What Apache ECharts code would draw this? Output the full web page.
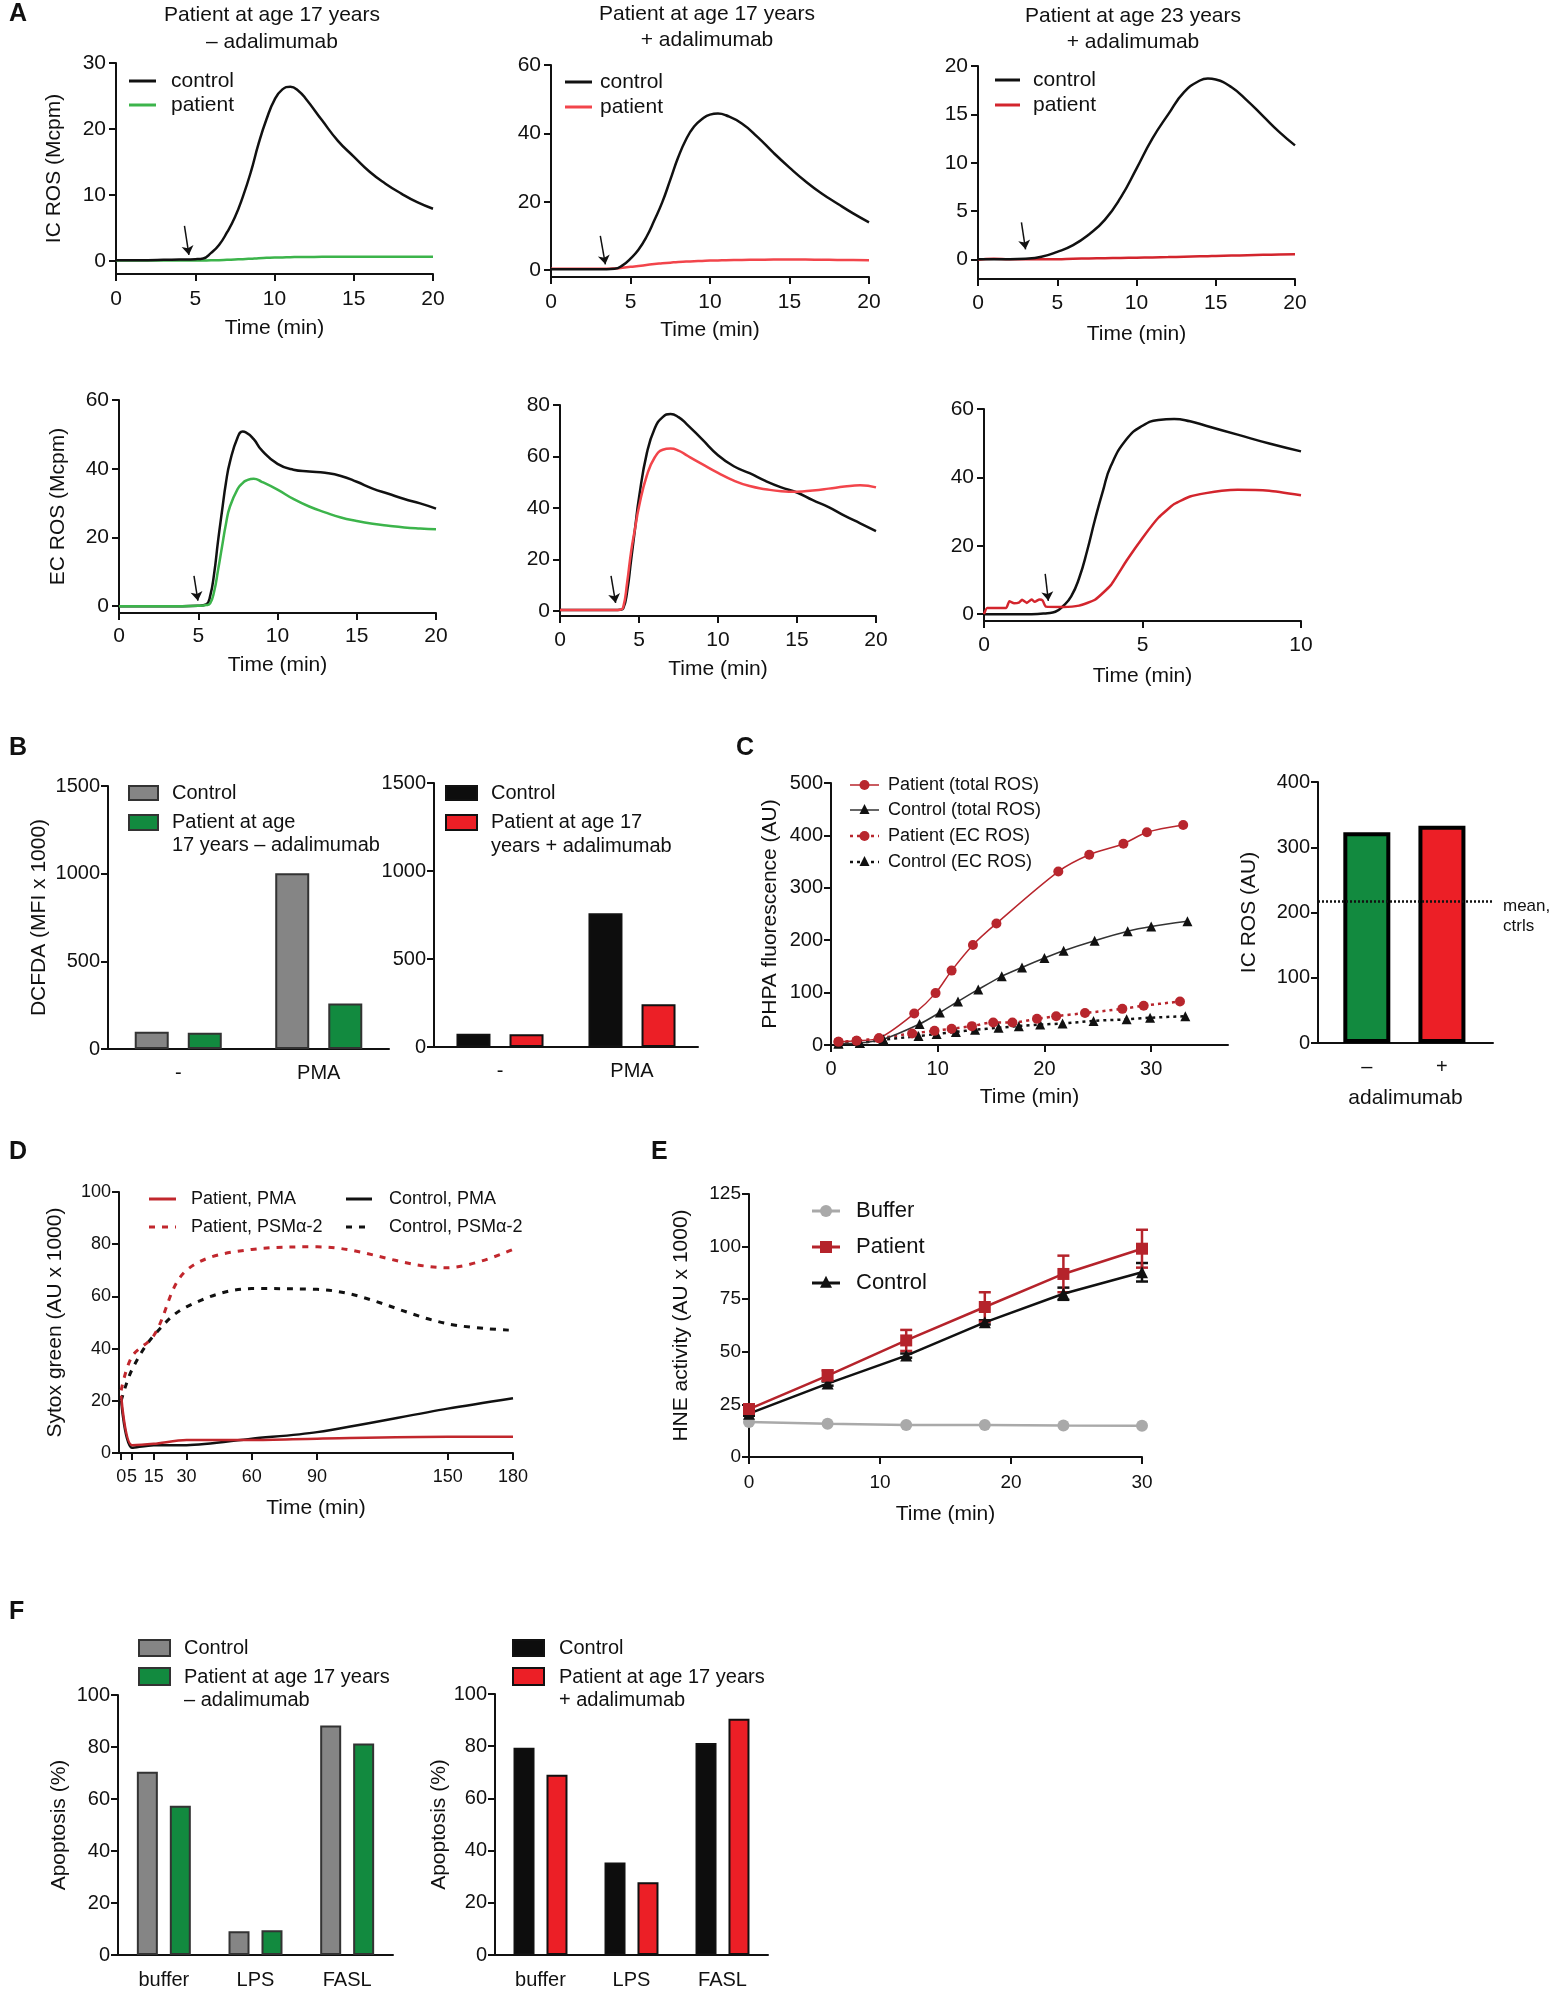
<!DOCTYPE html>
<html>
<head>
<meta charset="utf-8">
<title>ROS, NET and apoptosis panels</title>
<script src="https://cdn.jsdelivr.net/npm/echarts@6/dist/echarts.min.js"></script>
<style>
  html, body { margin: 0; padding: 0; background: #fff; }
  #chart { width: 1549px; height: 1990px; }
</style>
</head>
<body>
<div id="chart"></div>
<script>
// ---- data ----
// A, intracellular ROS
var a1Time = [0, 1, 2, 3, 4, 5, 5.5, 6, 6.5, 7, 7.5, 8, 8.5, 9, 9.5, 10, 10.5, 11, 11.5, 12, 13, 14, 15, 16, 17, 18, 19, 20];
var a1Control = [0.1, 0.1, 0.1, 0.15, 0.2, 0.25, 0.35, 1.2, 2.4, 4.3, 6.6, 9.7, 13.4, 17.8, 21.5, 24.4, 26, 26.4, 25.8, 24.5, 21.3, 18.2, 15.8, 13.5, 11.7, 10.2, 8.9, 7.9];
var a1Patient = [0.05, 0.05, 0.05, 0.05, 0.05, 0.05, 0.06, 0.07, 0.1, 0.15, 0.2, 0.25, 0.32, 0.4, 0.45, 0.5, 0.52, 0.55, 0.57, 0.58, 0.6, 0.62, 0.62, 0.62, 0.62, 0.62, 0.6, 0.6];

var a2Time = [0, 1, 2, 3, 3.5, 4, 4.5, 5, 5.5, 6, 6.5, 7, 7.5, 8, 8.5, 9, 9.5, 10, 10.5, 11, 12, 13, 14, 15, 16, 17, 18, 19, 20];
var a2Control = [0.3, 0.3, 0.3, 0.3, 0.3, 0.4, 1.4, 3.4, 6, 9.7, 14.6, 19.9, 26.4, 33, 38.3, 42, 44.2, 45.5, 45.8, 45.3, 42.9, 38.9, 34.3, 30, 26, 22.5, 19.5, 16.6, 14];
var a2Patient = [0.4, 0.4, 0.4, 0.4, 0.4, 0.5, 0.7, 1.0, 1.2, 1.5, 1.8, 2.0, 2.2, 2.4, 2.5, 2.6, 2.7, 2.8, 2.85, 2.9, 3.0, 3.05, 3.1, 3.1, 3.1, 3.05, 3.0, 2.95, 2.9];

var a3Time = [0, 1, 2, 3, 4, 5, 6, 7, 8, 9, 10, 11, 12, 13, 14, 14.5, 15, 16, 17, 18, 19, 20];
var a3Control = [0.05, 0.05, 0.05, 0.1, 0.3, 0.8, 1.5, 2.6, 4.1, 6.4, 9.4, 12.5, 15, 17.3, 18.5, 18.7, 18.6, 17.8, 16.4, 14.8, 13.2, 11.8];
var a3Patient = [0, 0.1, 0.05, 0.05, 0.05, 0.05, 0.1, 0.12, 0.15, 0.18, 0.2, 0.23, 0.26, 0.3, 0.34, 0.36, 0.38, 0.42, 0.46, 0.5, 0.53, 0.56];

// A, extracellular ROS
var ec1Time = [0, 1, 2, 3, 4, 5, 5.5, 5.75, 6, 6.25, 6.5, 6.75, 7, 7.5, 7.8, 8, 8.5, 9, 10, 11, 12, 13, 14, 15, 16, 17, 18, 19, 20];
var ec1Control = [0, 0, 0, 0, 0, 0.1, 0.5, 2.9, 9.4, 19, 27.7, 36, 42, 49.3, 50.8, 50.6, 48.6, 45.4, 41.4, 39.7, 39.2, 38.8, 37.9, 36.2, 34.2, 32.7, 31.2, 29.9, 28.4];
var ec1Patient = [0, 0, 0, 0, 0, 0.1, 0.3, 0.8, 4.2, 10.5, 17.3, 24, 29, 34.2, 35.8, 36.5, 37.1, 36.2, 33.9, 31.2, 29, 27.3, 25.8, 24.8, 24, 23.4, 22.9, 22.6, 22.4];

var ec2Time = [0, 1, 2, 3, 3.5, 3.8, 4, 4.25, 4.5, 4.75, 5, 5.5, 6, 6.5, 7, 7.5, 8, 9, 10, 11, 12, 13, 14, 15, 16, 17, 18, 19, 20];
var ec2Control = [0.3, 0.3, 0.3, 0.3, 0.3, 0.4, 0.9, 7.5, 19.7, 32, 44, 61.4, 71, 75.3, 76.5, 75.3, 72.7, 66.6, 60.5, 56.2, 53.5, 50.5, 48, 46, 43, 40.3, 37, 34, 31];
var ec2Patient = [0.3, 0.3, 0.3, 0.3, 0.3, 0.4, 1.4, 11, 23, 32, 40.5, 52.7, 59.7, 62.6, 63.1, 62.3, 60.5, 57, 53.6, 50.6, 48.5, 47.3, 46.5, 46.3, 46.8, 47.5, 48.3, 48.8, 48];

var ec3Time = [0, 0.5, 1, 1.5, 2, 2.25, 2.5, 2.75, 3, 3.25, 3.5, 3.75, 4, 4.5, 5, 5.5, 6, 6.5, 7, 8, 9, 10];
var ec3Control = [0, 0, 0, 0, 0.3, 0.7, 2.4, 5.2, 10.5, 18.4, 27.6, 36, 43.3, 51.2, 55.1, 56.8, 57.1, 56.4, 55.1, 52.5, 49.9, 47.6];
var ec3PatientTime = [0, 0.1, 0.7, 0.8, 0.95, 1.1, 1.2, 1.35, 1.5, 1.6, 1.75, 1.85, 1.95, 2.5, 3, 3.5, 4, 4.5, 5, 5.5, 6, 6.5, 7, 7.5, 8, 9, 10];
var ec3Patient = [0, 1.8, 1.8, 3.8, 3.2, 3.4, 4.2, 3.3, 4.3, 3.6, 4.3, 4.0, 2.2, 2.1, 2.5, 4.2, 8.5, 15.7, 22.3, 28.2, 32.2, 34.4, 35.4, 36.1, 36.4, 36.1, 34.8];

// B, DCFDA
var bCats = ['-', 'PMA'];
var b1Control = [99, 1002];
var b1Patient = [93, 260];
var b2Control = [75, 760];
var b2Patient = [72, 243];

// C, PHPA
var cPatTotTime = [0.7, 2.4, 4.5, 7.8, 9.8, 11.3, 13.3, 15.5, 21.3, 24.2, 27.4, 29.6, 33];
var cPatTot = [6, 8, 13, 60, 99, 142, 191, 232, 331, 363, 384, 406, 420];
var cCtlTotTime = [0.7, 2.7, 4.9, 8.3, 10.2, 11.9, 13.8, 16.0, 17.9, 20.0, 21.8, 24.7, 27.8, 30.0, 33.4];
var cCtlTot = [3, 4, 11, 40, 62, 83, 106, 131, 148, 166, 180, 199, 217, 226, 236];
var cPatEcTime = [0.7, 2.4, 4.5, 7.6, 9.7, 11.3, 13.2, 15.2, 17.0, 19.3, 21.1, 23.8, 27.3, 29.3, 32.7];
var cPatEc = [6, 8, 13, 22, 27, 31, 36, 43, 43, 50, 55, 61, 69, 75, 83];
var cCtlEcTime = [0.7, 2.7, 4.9, 8.2, 9.9, 11.7, 13.5, 15.7, 17.6, 19.6, 21.7, 24.6, 27.7, 29.9, 33.2];
var cCtlEc = [3, 4, 10, 17, 21, 25, 29, 33, 36, 39, 41, 46, 49, 52, 55];
var c2Cats = ['–', '+'];
var c2Values = [323, 333];
var c2MeanCtrls = 218;

// D, Sytox green
var dTime = [0, 5, 15, 30, 60, 90, 150, 180];
var dPatientPMA = [22, 3, 3.5, 5, 5, 5.5, 6.2, 6.2];
var dControlPMA = [20, 2, 3, 3, 5.5, 8, 17, 21];
var dPatientPSM = [24, 37, 45, 70, 78, 79, 71, 78];
var dControlPSM = [20, 32, 45, 56, 63, 62.7, 49.5, 47];

// E, HNE activity
var eTime = [0, 6, 12, 18, 24, 30];
var eBuffer = [16.6, 15.8, 15.2, 15.2, 15.0, 14.9];
var ePatient = [22.8, 38.7, 55.4, 71.3, 87.0, 99.0];
var ePatientErr = [1, 2.5, 5, 7, 8.7, 9];
var eControl = [20.6, 34.9, 48.2, 64.0, 77.6, 87.8];
var eControlErr = [1, 1, 1, 1, 2.9, 4.4];

// F, apoptosis
var fCats = ['buffer', 'LPS', 'FASL'];
var f1Control = [70.5, 9.1, 88.3];
var f1Patient = [57.4, 9.5, 81.3];
var f2Control = [79.4, 35.4, 81.2];
var f2Patient = [69.1, 27.9, 90.5];

// ---- styling ----
var FONT = '"Liberation Sans", Arial, Helvetica, sans-serif';
var INK = '#111';
var GREEN_LINE = '#3cb44b';
var RED_LIGHT = '#f2454b';
var RED_A3 = '#d3252d';
var DARK_RED = '#b8262d';
var BAR_GRAY = '#858585';
var BAR_GREEN = '#128a3f';
var BAR_RED = '#ec1f26';
var BAR_BLACK = '#0d0d0d';
var BUFFER_GRAY = '#a9a9a9';

function zip(xs, ys) {
  return xs.map(function (x, i) { return [x, ys[i]]; });
}

function plain(v) { return String(v); }

function vAxis(o) {
  return {
    type: 'value', gridIndex: o.grid, min: o.min, max: o.max,
    name: o.name || '', nameLocation: 'middle', nameGap: o.nameGap || 40,
    nameTextStyle: { fontFamily: FONT, fontSize: o.nameSize || 21, color: INK },
    axisLine: { show: true, onZero: false, lineStyle: { color: INK, width: 2 } },
    axisTick: { show: o.tick !== false, customValues: o.ticks, length: 7, lineStyle: { color: INK, width: 2 } },
    axisLabel: { show: true, customValues: o.ticks, fontFamily: FONT, fontSize: o.size || 21, color: INK,
      margin: o.margin || 10, formatter: o.formatter || plain },
    splitLine: { show: false }
  };
}

function cAxis(o) {
  return {
    type: 'category', gridIndex: o.grid, data: o.data,
    axisLine: { show: true, onZero: false, lineStyle: { color: INK, width: 2 } },
    axisTick: { show: false },
    axisLabel: { fontFamily: FONT, fontSize: o.size || 20, color: INK, margin: o.margin || 14 },
    splitLine: { show: false }
  };
}

function curve(idx, xs, ys, color, extra) {
  var s = {
    type: 'line', xAxisIndex: idx, yAxisIndex: idx, data: zip(xs, ys),
    symbol: 'none', smooth: 0.5,
    lineStyle: { color: color, width: 2.5 }, itemStyle: { color: color },
    silent: true, animation: false
  };
  for (var k in extra) s[k] = extra[k];
  return s;
}

function arrow(idx, from, to) {
  return {
    type: 'line', xAxisIndex: idx, yAxisIndex: idx, data: [],
    silent: true, animation: false,
    markLine: {
      silent: true, animation: false, symbol: ['none', 'arrow'], symbolSize: 9,
      label: { show: false },
      lineStyle: { color: INK, width: 1.5, type: 'solid' },
      data: [[{ coord: from }, { coord: to }]]
    }
  };
}

function bar(idx, data, color, border, width, gap) {
  return {
    type: 'bar', xAxisIndex: idx, yAxisIndex: idx, data: data,
    barWidth: width, barGap: gap,
    itemStyle: { color: color, borderColor: border, borderWidth: 2 },
    silent: true, animation: false
  };
}

// legend helpers (graphic)
function txt(x, y, s, size, opt) {
  opt = opt || {};
  return {
    type: 'text', x: x, y: y, silent: true,
    style: {
      text: s, fill: INK, align: opt.align || 'left', verticalAlign: 'middle',
      font: (opt.bold ? 'bold ' : '') + size + 'px ' + FONT
    }
  };
}
function seg(x1, x2, y, color, width, dash) {
  return {
    type: 'line', silent: true,
    shape: { x1: x1, y1: y, x2: x2, y2: y },
    style: { stroke: color, lineWidth: width || 3, lineDash: dash || null }
  };
}
function box(x, y, w, h, fill, stroke) {
  return {
    type: 'rect', silent: true, shape: { x: x, y: y, width: w, height: h },
    style: { fill: fill, stroke: stroke, lineWidth: 2 }
  };
}
function dot(cx, cy, r, fill) {
  return { type: 'circle', silent: true, shape: { cx: cx, cy: cy, r: r }, style: { fill: fill } };
}
function square(cx, cy, s, fill) {
  return { type: 'rect', silent: true, shape: { x: cx - s / 2, y: cy - s / 2, width: s, height: s }, style: { fill: fill } };
}
function tri(cx, cy, s, fill) {
  return {
    type: 'polygon', silent: true,
    shape: { points: [[cx, cy - s * 0.6], [cx - s / 2, cy + s * 0.4], [cx + s / 2, cy + s * 0.4]] },
    style: { fill: fill }
  };
}

// ---- layout: one grid per sub plot ----
var grids = [
  { left: 116, top: 63, width: 317, height: 211 },   // 0 A IC 1
  { left: 551, top: 65, width: 318, height: 212 },   // 1 A IC 2
  { left: 978, top: 66, width: 317, height: 213 },   // 2 A IC 3
  { left: 119, top: 400, width: 317, height: 213 },  // 3 A EC 1
  { left: 560, top: 405, width: 316, height: 211 },  // 4 A EC 2
  { left: 984, top: 409, width: 317, height: 212 },  // 5 A EC 3
  { left: 108, top: 786, width: 281, height: 263 },  // 6 B1
  { left: 434, top: 783, width: 264, height: 264 },  // 7 B2
  { left: 831, top: 783, width: 397, height: 262 },  // 8 C1
  { left: 1318, top: 782, width: 175, height: 261 }, // 9 C2
  { left: 119, top: 1192, width: 394, height: 261 }, // 10 D
  { left: 749, top: 1194, width: 393, height: 263 }, // 11 E
  { left: 118, top: 1695, width: 275, height: 262 }, // 12 F1
  { left: 495, top: 1694, width: 273, height: 263 }  // 13 F2
];

var tMin = [0, 5, 10, 15, 20];
var xAxes = [
  vAxis({ grid: 0, min: 0, max: 20, ticks: tMin, name: 'Time (min)', nameGap: 44, margin: 15 }),
  vAxis({ grid: 1, min: 0, max: 20, ticks: tMin, name: 'Time (min)', nameGap: 43, margin: 15 }),
  vAxis({ grid: 2, min: 0, max: 20, ticks: tMin, name: 'Time (min)', nameGap: 45, margin: 14 }),
  vAxis({ grid: 3, min: 0, max: 20, ticks: tMin, name: 'Time (min)', nameGap: 42, margin: 13 }),
  vAxis({ grid: 4, min: 0, max: 20, ticks: tMin, name: 'Time (min)', nameGap: 43, margin: 14 }),
  vAxis({ grid: 5, min: 0, max: 10, ticks: [0, 5, 10], name: 'Time (min)', nameGap: 45, margin: 14 }),
  cAxis({ grid: 6, data: bCats }),
  cAxis({ grid: 7, data: bCats }),
  vAxis({ grid: 8, min: 0, max: 37.2, ticks: [0, 10, 20, 30], name: 'Time (min)', nameGap: 42, margin: 14, size: 20 }),
  vAxis({ grid: 9, min: -0.65, max: 1.68, ticks: [0, 1], tick: false, name: 'adalimumab', nameGap: 45, margin: 14, size: 20,
    formatter: function (v) { return c2Cats[Math.round(v)]; } }),
  vAxis({ grid: 10, min: -1, max: 180, ticks: dTime, name: 'Time (min)', nameGap: 45, margin: 15, size: 18 }),
  vAxis({ grid: 11, min: 0, max: 30, ticks: [0, 10, 20, 30], name: 'Time (min)', nameGap: 47, margin: 16, size: 19 }),
  cAxis({ grid: 12, data: fCats, margin: 15 }),
  cAxis({ grid: 13, data: fCats, margin: 15 })
];

var yAxes = [
  vAxis({ grid: 0, min: -2, max: 30, ticks: [0, 10, 20, 30], name: 'IC ROS (Mcpm)', nameGap: 51 }),
  vAxis({ grid: 1, min: -2, max: 60, ticks: [0, 20, 40, 60] }),
  vAxis({ grid: 2, min: -2, max: 20, ticks: [0, 5, 10, 15, 20] }),
  vAxis({ grid: 3, min: -2, max: 60, ticks: [0, 20, 40, 60], name: 'EC ROS (Mcpm)', nameGap: 50 }),
  vAxis({ grid: 4, min: -2, max: 80, ticks: [0, 20, 40, 60, 80] }),
  vAxis({ grid: 5, min: -2, max: 60, ticks: [0, 20, 40, 60] }),
  vAxis({ grid: 6, min: 0, max: 1500, ticks: [0, 500, 1000, 1500], name: 'DCFDA (MFI x 1000)', nameGap: 58, size: 20, nameSize: 21, margin: 8 }),
  vAxis({ grid: 7, min: 0, max: 1500, ticks: [0, 500, 1000, 1500], size: 20, margin: 8 }),
  vAxis({ grid: 8, min: 0, max: 500, ticks: [0, 100, 200, 300, 400, 500], name: 'PHPA fluorescence (AU)', nameGap: 50, size: 20, margin: 8 }),
  vAxis({ grid: 9, min: 0, max: 400, ticks: [0, 100, 200, 300, 400], name: 'IC ROS (AU)', nameGap: 58, size: 20, margin: 8 }),
  vAxis({ grid: 10, min: 0, max: 100, ticks: [0, 20, 40, 60, 80, 100], name: 'Sytox green (AU x 1000)', nameGap: 53, size: 18, margin: 8 }),
  vAxis({ grid: 11, min: 0, max: 125, ticks: [0, 25, 50, 75, 100, 125], name: 'HNE activity (AU x 1000)', nameGap: 57, size: 19, margin: 8 }),
  vAxis({ grid: 12, min: 0, max: 100, ticks: [0, 20, 40, 60, 80, 100], name: 'Apoptosis (%)', nameGap: 48, size: 20, margin: 8 }),
  vAxis({ grid: 13, min: 0, max: 100, ticks: [0, 20, 40, 60, 80, 100], name: 'Apoptosis (%)', nameGap: 45, size: 20, margin: 8 })
];

// error bars for panel E
function errorBars(idx, xs, ys, errs, color) {
  return {
    type: 'custom', xAxisIndex: idx, yAxisIndex: idx, silent: true, animation: false,
    data: xs.map(function (x, i) { return [x, ys[i], errs[i]]; }),
    renderItem: function (params, api) {
      var x = api.value(0), y = api.value(1), e = api.value(2);
      var top = api.coord([x, y + e]);
      var bot = api.coord([x, y - e]);
      var st = { stroke: color, lineWidth: 2.5 };
      return {
        type: 'group', children: [
          { type: 'line', shape: { x1: top[0], y1: top[1], x2: bot[0], y2: bot[1] }, style: st },
          { type: 'line', shape: { x1: top[0] - 6, y1: top[1], x2: top[0] + 6, y2: top[1] }, style: st },
          { type: 'line', shape: { x1: bot[0] - 6, y1: bot[1], x2: bot[0] + 6, y2: bot[1] }, style: st }
        ]
      };
    }
  };
}

var series = [
  // A, IC ROS
  curve(0, a1Time, a1Patient, GREEN_LINE),
  curve(0, a1Time, a1Control, INK),
  arrow(0, [4.32, 5.3], [4.6, 0.9]),
  curve(1, a2Time, a2Patient, RED_LIGHT),
  curve(1, a2Time, a2Control, INK),
  arrow(1, [3.1, 10], [3.42, 1.7]),
  curve(2, a3Time, a3Patient, RED_A3),
  curve(2, a3Time, a3Control, INK),
  arrow(2, [2.74, 3.86], [3.0, 1.07]),
  // A, EC ROS
  curve(3, ec1Time, ec1Control, INK),
  curve(3, ec1Time, ec1Patient, GREEN_LINE),
  arrow(3, [4.73, 8.8], [4.98, 1.57]),
  curve(4, ec2Time, ec2Control, INK),
  curve(4, ec2Time, ec2Patient, RED_LIGHT),
  arrow(4, [3.23, 13.6], [3.52, 3.1]),
  curve(5, ec3Time, ec3Control, INK),
  curve(5, ec3PatientTime, ec3Patient, RED_A3, { smooth: 0.15 }),
  arrow(5, [1.93, 11.8], [2.03, 3.9]),
  // B
  bar(6, b1Control, BAR_GRAY, '#333', 34, '56%'),
  bar(6, b1Patient, BAR_GREEN, '#333', 34, '56%'),
  bar(7, b2Control, BAR_BLACK, '#111', 34, '56%'),
  bar(7, b2Patient, BAR_RED, '#111', 34, '56%'),
  // C1
  curve(8, cCtlEcTime, cCtlEc, INK, { symbol: 'triangle', symbolSize: 10, showSymbol: true, smooth: 0.3,
    lineStyle: { color: INK, width: 2.5, type: [3, 4] } }),
  curve(8, cPatEcTime, cPatEc, DARK_RED, { symbol: 'circle', symbolSize: 10, showSymbol: true, smooth: 0.3,
    lineStyle: { color: DARK_RED, width: 2.5, type: [3, 4] } }),
  curve(8, cCtlTotTime, cCtlTot, INK, { symbol: 'triangle', symbolSize: 10, showSymbol: true, smooth: 0.3,
    lineStyle: { color: '#333', width: 1.5 } }),
  curve(8, cPatTotTime, cPatTot, DARK_RED, { symbol: 'circle', symbolSize: 10, showSymbol: true, smooth: 0.3,
    lineStyle: { color: DARK_RED, width: 1.5 } }),
  // C2
  {
    type: 'bar', xAxisIndex: 9, yAxisIndex: 9, barWidth: 47, silent: true, animation: false,
    data: [
      { value: [0, c2Values[0]], itemStyle: { color: BAR_GREEN } },
      { value: [1, c2Values[1]], itemStyle: { color: BAR_RED } }
    ],
    itemStyle: { borderColor: '#000', borderWidth: 4 },
    markLine: {
      silent: true, animation: false, symbol: 'none', label: { show: false },
      lineStyle: { color: INK, width: 2.5, type: [2, 2] },
      data: [{ yAxis: c2MeanCtrls }]
    }
  },
  // D
  curve(10, dTime, dControlPSM, INK, { smooth: 0.35, lineStyle: { color: INK, width: 3, type: [6, 7] } }),
  curve(10, dTime, dPatientPSM, '#c1272d', { smooth: 0.35, lineStyle: { color: '#c1272d', width: 3, type: [6, 7] } }),
  curve(10, dTime, dControlPMA, INK, { smooth: 0.3, lineStyle: { color: INK, width: 2.5 } }),
  curve(10, dTime, dPatientPMA, '#c1272d', { smooth: 0.3, lineStyle: { color: '#c1272d', width: 2.5 } }),
  // E
  curve(11, eTime, eBuffer, BUFFER_GRAY, { symbol: 'circle', symbolSize: 12, showSymbol: true, smooth: false,
    lineStyle: { color: BUFFER_GRAY, width: 2.5 } }),
  errorBars(11, eTime, eControl, eControlErr, INK),
  curve(11, eTime, eControl, INK, { symbol: 'triangle', symbolSize: 12, showSymbol: true, smooth: false,
    lineStyle: { color: INK, width: 2.5 } }),
  errorBars(11, eTime, ePatient, ePatientErr, '#b5232b'),
  curve(11, eTime, ePatient, '#b5232b', { symbol: 'rect', symbolSize: 12, showSymbol: true, smooth: false,
    lineStyle: { color: '#b5232b', width: 2.5 } }),
  // F
  bar(12, f1Control, BAR_GRAY, '#333', 21, '57%'),
  bar(12, f1Patient, BAR_GREEN, '#333', 21, '57%'),
  bar(13, f2Control, BAR_BLACK, '#111', 21, '57%'),
  bar(13, f2Patient, BAR_RED, '#111', 21, '57%')
];

// ---- texts: panel letters, titles, legends ----
var graphics = [
  txt(9, 14, 'A', 25, { bold: true }),
  txt(9, 748, 'B', 25, { bold: true }),
  txt(736, 748, 'C', 25, { bold: true }),
  txt(9, 1152, 'D', 25, { bold: true }),
  txt(651, 1152, 'E', 25, { bold: true }),
  txt(9, 1612, 'F', 25, { bold: true }),

  txt(272, 15, 'Patient at age 17 years', 21, { align: 'center' }),
  txt(272, 42, '– adalimumab', 21, { align: 'center' }),
  txt(707, 14, 'Patient at age 17 years', 21, { align: 'center' }),
  txt(707, 40, '+ adalimumab', 21, { align: 'center' }),
  txt(1133, 16, 'Patient at age 23 years', 21, { align: 'center' }),
  txt(1133, 42, '+ adalimumab', 21, { align: 'center' }),

  seg(129, 156, 81, INK), txt(171, 81, 'control', 21),
  seg(129, 156, 105, GREEN_LINE), txt(171, 105, 'patient', 21),
  seg(565, 592, 82, INK), txt(600, 82, 'control', 21),
  seg(565, 592, 107, RED_LIGHT), txt(600, 107, 'patient', 21),
  seg(995, 1020, 80, INK), txt(1033, 80, 'control', 21),
  seg(995, 1020, 105, RED_A3), txt(1033, 105, 'patient', 21),

  box(129, 786, 29, 14, BAR_GRAY, '#333'), txt(172, 793, 'Control', 20),
  box(129, 815, 29, 15, BAR_GREEN, '#333'), txt(172, 822, 'Patient at age', 20),
  txt(172, 845, '17 years – adalimumab', 20),
  box(446, 786, 31, 14, BAR_BLACK, '#111'), txt(491, 793, 'Control', 20),
  box(446, 815, 31, 15, BAR_RED, '#111'), txt(491, 822, 'Patient at age 17', 20),
  txt(491, 846, 'years + adalimumab', 20),

  seg(850, 879, 785, DARK_RED, 1.5), dot(864.5, 785, 5, DARK_RED), txt(888, 785, 'Patient (total ROS)', 18),
  seg(850, 879, 810, '#333', 1.5), tri(864.5, 810, 10, INK), txt(888, 810, 'Control (total ROS)', 18),
  seg(850, 879, 836, DARK_RED, 2.5, [3, 4]), dot(864.5, 836, 5, DARK_RED), txt(888, 836, 'Patient (EC ROS)', 18),
  seg(850, 879, 862, INK, 2.5, [3, 4]), tri(864.5, 862, 10, INK), txt(888, 862, 'Control (EC ROS)', 18),
  txt(1503, 906, 'mean,', 17), txt(1503, 926, 'ctrls', 17),

  seg(149, 176, 1199, '#c1272d'), txt(191, 1199, 'Patient, PMA', 18),
  seg(346, 372, 1199, INK), txt(389, 1199, 'Control, PMA', 18),
  seg(149, 176, 1227, '#c1272d', 3, [6, 7]), txt(191, 1227, 'Patient, PSMα-2', 18),
  seg(346, 372, 1227, INK, 3, [6, 7]), txt(389, 1227, 'Control, PSMα-2', 18),

  seg(812, 840, 1211, BUFFER_GRAY), dot(826, 1211, 6, BUFFER_GRAY), txt(856, 1211, 'Buffer', 22),
  seg(812, 840, 1247, '#b5232b'), square(826, 1247, 12, '#b5232b'), txt(856, 1247, 'Patient', 22),
  seg(812, 840, 1283, INK), tri(826, 1283, 12, INK), txt(856, 1283, 'Control', 22),

  box(139, 1640, 31, 16, BAR_GRAY, '#333'), txt(184, 1648, 'Control', 20),
  box(139, 1668, 31, 17, BAR_GREEN, '#333'), txt(184, 1677, 'Patient at age 17 years', 20),
  txt(184, 1700, '– adalimumab', 20),
  box(513, 1640, 31, 16, BAR_BLACK, '#111'), txt(559, 1648, 'Control', 20),
  box(513, 1668, 31, 17, BAR_RED, '#111'), txt(559, 1677, 'Patient at age 17 years', 20),
  txt(559, 1700, '+ adalimumab', 20)
];

var chart = echarts.init(document.getElementById('chart'), null, { renderer: 'canvas' });
chart.setOption({
  backgroundColor: '#fff',
  animation: false,
  textStyle: { fontFamily: FONT },
  grid: grids,
  xAxis: xAxes,
  yAxis: yAxes,
  series: series,
  graphic: graphics
});
</script>
</body>
</html>
